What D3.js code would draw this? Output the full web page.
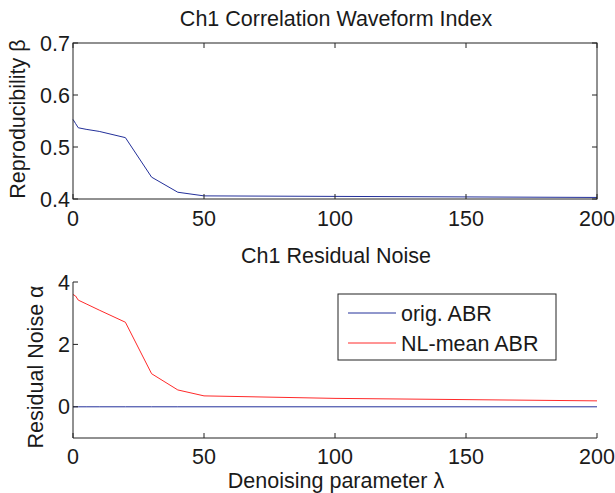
<!DOCTYPE html>
<html><head><meta charset="utf-8">
<script src="https://cdn.jsdelivr.net/npm/d3@7"></script>
<style>
body{margin:0;background:#fff;}
text{font-family:"Liberation Sans",Arial,Helvetica,sans-serif;fill:#1a1a1a;}
</style></head>
<body>
<svg id="c" width="615" height="493"></svg>
<script>
const lambda = [0, 1, 2, 5, 10, 20, 30, 40, 50, 100, 150, 200];
const reproducibility = [0.553, 0.545, 0.537, 0.534, 0.530, 0.518, 0.442, 0.413, 0.406, 0.405, 0.404, 0.403];
const noiseOrig = [0, 0, 0, 0, 0, 0, 0, 0, 0, 0, 0, 0];
const noiseNL = [3.6, 3.55, 3.42, 3.30, 3.10, 2.71, 1.06, 0.54, 0.35, 0.27, 0.23, 0.19];
const xTicks = [0, 50, 100, 150, 200];
const yTicksTop = [0.4, 0.5, 0.6, 0.7];
const yTicksBottom = [0, 2, 4];
const legendLabels = ["orig. ABR", "NL-mean ABR"];
const colors = ["#23309a", "#ff2a2a"];

const svg = d3.select("#c");
const FS = 21.5;
const L = 73, R = 597;
const x = d3.scaleLinear().domain([0, 200]).range([L, R]);
const yT = d3.scaleLinear().domain([0.4, 0.7]).range([199, 43]);
const yB = d3.scaleLinear().domain([-1, 4]).range([438, 282]);
const tick = 5;

function line(ys, yScale) {
  return d3.line().x((d, i) => x(lambda[i])).y(d => yScale(d))(ys);
}

// ---- top axes ----
const gT = svg.append("g");
gT.append("path").attr("d", line(reproducibility, yT)).attr("fill", "none")
  .attr("stroke", colors[0]).attr("stroke-width", 1);
gT.append("rect").attr("x", L).attr("y", 43).attr("width", R - L).attr("height", 199 - 43)
  .attr("fill", "none").attr("stroke", "#222").attr("stroke-width", 1);
xTicks.forEach(t => {
  gT.append("line").attr("x1", x(t)).attr("x2", x(t)).attr("y1", 199).attr("y2", 199 - tick).attr("stroke", "#222");
  gT.append("line").attr("x1", x(t)).attr("x2", x(t)).attr("y1", 43).attr("y2", 43 + tick).attr("stroke", "#222");
  gT.append("text").attr("x", x(t)).attr("y", 226).attr("text-anchor", "middle").attr("font-size", FS).text(t);
});
yTicksTop.forEach(t => {
  gT.append("line").attr("x1", L).attr("x2", L + tick).attr("y1", yT(t)).attr("y2", yT(t)).attr("stroke", "#222");
  gT.append("line").attr("x1", R).attr("x2", R - tick).attr("y1", yT(t)).attr("y2", yT(t)).attr("stroke", "#222");
  gT.append("text").attr("x", L - 3).attr("y", yT(t) + 7.5).attr("text-anchor", "end").attr("font-size", FS).text(d3.format(".1f")(t));
});
gT.append("text").attr("x", 336).attr("y", 26).attr("text-anchor", "middle").attr("font-size", FS).text("Ch1 Correlation Waveform Index");
gT.append("text").attr("transform", "translate(25,119) rotate(-90)").attr("text-anchor", "middle").attr("font-size", FS).text("Reproducibility β");

// ---- bottom axes ----
const gB = svg.append("g");
gB.append("path").attr("d", line(noiseOrig, yB)).attr("fill", "none").attr("stroke", colors[0]).attr("stroke-width", 1);
gB.append("path").attr("d", line(noiseNL, yB)).attr("fill", "none").attr("stroke", colors[1]).attr("stroke-width", 1);
gB.append("line").attr("x1", L).attr("x2", L).attr("y1", 282).attr("y2", 438).attr("stroke", "#222");
gB.append("line").attr("x1", L).attr("x2", R).attr("y1", 438).attr("y2", 438).attr("stroke", "#222");
xTicks.forEach(t => {
  gB.append("line").attr("x1", x(t)).attr("x2", x(t)).attr("y1", 438).attr("y2", 438 - tick).attr("stroke", "#222");
  gB.append("text").attr("x", x(t)).attr("y", 464).attr("text-anchor", "middle").attr("font-size", FS).text(t);
});
yTicksBottom.forEach(t => {
  gB.append("line").attr("x1", L).attr("x2", L + tick).attr("y1", yB(t)).attr("y2", yB(t)).attr("stroke", "#222");
  gB.append("text").attr("x", L - 3).attr("y", yB(t) + 7.5).attr("text-anchor", "end").attr("font-size", FS).text(t);
});
gB.append("text").attr("x", 336).attr("y", 263).attr("text-anchor", "middle").attr("font-size", FS).text("Ch1 Residual Noise");
gB.append("text").attr("x", 336).attr("y", 488).attr("text-anchor", "middle").attr("font-size", FS).text("Denoising parameter λ");
gB.append("text").attr("transform", "translate(43,367) rotate(-90)").attr("text-anchor", "middle").attr("font-size", FS).text("Residual Noise α");

// legend
const lg = svg.append("g");
lg.append("rect").attr("x", 338).attr("y", 294).attr("width", 218).attr("height", 66)
  .attr("fill", "#fff").attr("stroke", "#222").attr("stroke-width", 1);
legendLabels.forEach((lab, i) => {
  const yy = 313 + i * 30;
  lg.append("line").attr("x1", 348).attr("x2", 396).attr("y1", yy).attr("y2", yy).attr("stroke", colors[i]);
  lg.append("text").attr("x", 401).attr("y", yy + 7.5).attr("font-size", FS).text(lab);
});
</script>
</body></html>
